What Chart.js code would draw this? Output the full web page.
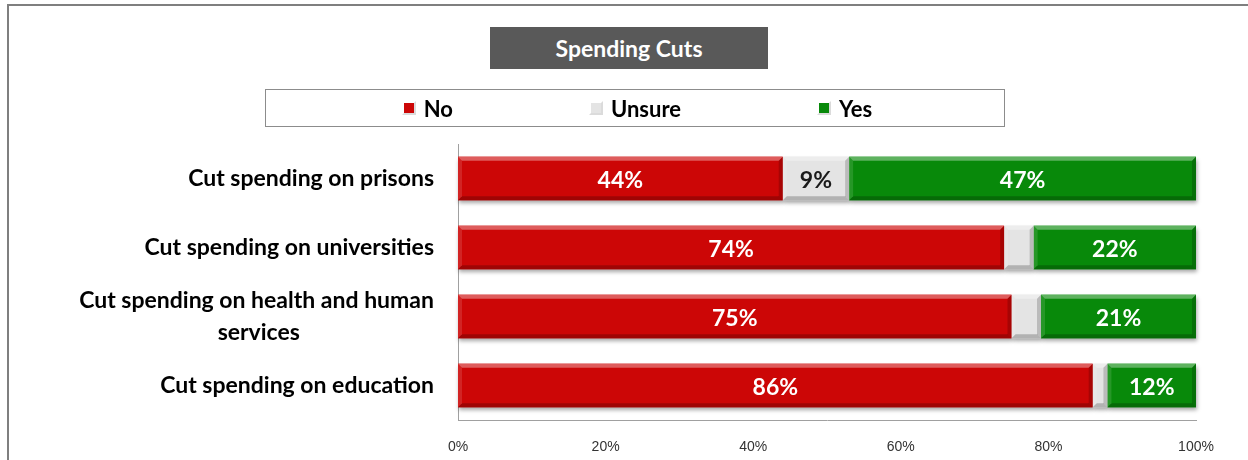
<!DOCTYPE html>
<html>
<head>
<meta charset="utf-8">
<title>Spending Cuts</title>
<script src="https://cdn.jsdelivr.net/npm/chart.js@4"></script>
<style>
  html, body { margin: 0; padding: 0; background: #fff; overflow: hidden; }
  #wrap { position: relative; width: 1248px; height: 460px; overflow: hidden; }
  #frame {
    position: absolute; left: 7px; top: 4px; width: 1300px; height: 520px;
    border-top: 2px solid #7f7f7f; border-left: 2px solid #7f7f7f;
  }
  #chart { position: absolute; left: 0; top: 0; }
  #title {
    position: absolute; left: 490px; top: 27px; width: 278px; height: 42px;
    background: #595959; color: #fff;
    font: bold 23px Lato, "Open Sans", sans-serif;
    display: flex; align-items: center; justify-content: center;
  }
  #legend {
    position: absolute; left: 265px; top: 89px; width: 740px; height: 38px;
    border: 1px solid #8c8c8c; box-sizing: border-box;
    display: flex; align-items: center; justify-content: center; gap: 136px;
    padding-left: 4px;
    font: bold 22px Lato, "Open Sans", sans-serif; color: #000;
  }
  #legend .item { display: flex; align-items: center; }
  #legend .swatch { width: 14px; height: 14px; margin-right: 8px; box-sizing: border-box; }
</style>
</head>
<body>
<div id="wrap">
  <div id="frame"></div>
  <canvas id="chart" width="1248" height="460"></canvas>
  <div id="title">Spending Cuts</div>
  <div id="legend"></div>
</div>
<script>
const categories = [
  ["Cut spending on prisons"],
  ["Cut spending on universities"],
  ["Cut spending on health and human", "services"],
  ["Cut spending on education"]
];
const noValues = [44, 74, 75, 86];
const unsureValues = [9, 4, 4, 2];
const yesValues = [47, 22, 21, 12];
const xTicks = [0, 20, 40, 60, 80, 100];

const labelFont = 'bold 23px Lato, "Open Sans", sans-serif';

// right-aligned tick labels: pad the shorter lines so they sit centred under the longest one
function centerLines(lines) {
  const ctx = document.createElement("canvas").getContext("2d");
  ctx.font = labelFont;
  const widest = Math.max(...lines.map(l => ctx.measureText(l).width));
  const space = ctx.measureText(" ").width;
  return lines.map(l => l + " ".repeat(Math.round((widest - ctx.measureText(l).width) / 2 / space)));
}

const series = [
  { label: "No", data: noValues, color: "#cc0606", text: "#ffffff" },
  { label: "Unsure", data: unsureValues, color: "#e4e4e4", text: "#1a1a1a" },
  { label: "Yes", data: yesValues, color: "#08890a", text: "#ffffff" }
];

function barRect(el) {
  const l = Math.min(el.x, el.base), r = Math.max(el.x, el.base);
  return { l, r, t: el.y - el.height / 2, b: el.y + el.height / 2 };
}

/* soft shadow under each segment, then bevel edges on top */
const bevel = {
  id: "bevel",
  beforeDatasetsDraw(chart) {
    const ctx = chart.ctx;
    chart.data.datasets.forEach((ds, i) => {
      chart.getDatasetMeta(i).data.forEach(el => {
        const { l, r, t, b } = barRect(el);
        if (r - l < 1) return;
        ctx.save();
        ctx.shadowColor = "rgba(0,0,0,0.35)";
        ctx.shadowBlur = 4;
        ctx.shadowOffsetX = 1;
        ctx.shadowOffsetY = 3;
        ctx.fillStyle = ds.backgroundColor;
        ctx.fillRect(l, t, r - l, b - t);
        ctx.restore();
      });
    });
  },
  afterDatasetsDraw(chart) {
    const ctx = chart.ctx;
    const d = 4;
    chart.data.datasets.forEach((ds, i) => {
      chart.getDatasetMeta(i).data.forEach(el => {
        const { l, r, t, b } = barRect(el);
        if (r - l < 2 * d) return;
        const poly = (pts, fill) => {
          ctx.beginPath();
          ctx.moveTo(pts[0][0], pts[0][1]);
          pts.slice(1).forEach(p => ctx.lineTo(p[0], p[1]));
          ctx.closePath();
          ctx.fillStyle = fill;
          ctx.fill();
        };
        ctx.save();
        poly([[l, t], [r, t], [r - d, t + d], [l + d, t + d]], "rgba(255,255,255,0.35)");
        poly([[l, b], [r, b], [r - d, b - d], [l + d, b - d]], "rgba(0,0,0,0.22)");
        poly([[l, t], [l + d, t + d], [l + d, b - d], [l, b]], "rgba(255,255,255,0.12)");
        poly([[r, t], [r - d, t + d], [r - d, b - d], [r, b]], "rgba(0,0,0,0.18)");
        ctx.restore();
      });
    });
  }
};

/* percentage labels in the middle of each segment wide enough to hold one */
const segmentLabels = {
  id: "segmentLabels",
  afterDatasetsDraw(chart) {
    const ctx = chart.ctx;
    ctx.save();
    ctx.font = labelFont;
    ctx.textAlign = "center";
    ctx.textBaseline = "middle";
    chart.data.datasets.forEach((ds, i) => {
      chart.getDatasetMeta(i).data.forEach((el, j) => {
        const v = ds.data[j];
        if (v < 5) return;
        const { l, r } = barRect(el);
        ctx.fillStyle = series[i].text;
        ctx.fillText(v + "%", (l + r) / 2, el.y + 2);
      });
    });
    ctx.restore();
  }
};

/* legend built from the datasets */
const htmlLegend = {
  id: "htmlLegend",
  afterUpdate(chart) {
    const box = document.getElementById("legend");
    box.innerHTML = "";
    chart.data.datasets.forEach(ds => {
      const item = document.createElement("span");
      item.className = "item";
      const sw = document.createElement("span");
      sw.className = "swatch";
      sw.style.background = ds.backgroundColor;
      sw.style.border = "2px solid rgba(0,0,0,0.14)";
      sw.style.borderTopColor = "rgba(255,255,255,0.5)";
      sw.style.borderLeftColor = "rgba(255,255,255,0.25)";
      sw.style.backgroundClip = "padding-box";
      item.appendChild(sw);
      item.appendChild(document.createTextNode(ds.label));
      box.appendChild(item);
    });
  }
};

new Chart(document.getElementById("chart"), {
  type: "bar",
  data: {
    labels: categories.map(centerLines),
    datasets: series.map(s => ({
      label: s.label,
      data: s.data,
      backgroundColor: s.color,
      borderWidth: 0,
      barPercentage: 0.63,
      categoryPercentage: 1
    }))
  },
  options: {
    indexAxis: "y",
    responsive: false,
    animation: false,
    layout: { padding: { top: 144, right: 52, left: 0, bottom: 0 } },
    plugins: {
      legend: { display: false },
      title: { display: false },
      tooltip: { enabled: false }
    },
    scales: {
      x: {
        stacked: true,
        min: 0,
        max: 100,
        afterBuildTicks: scale => { scale.ticks = xTicks.map(v => ({ value: v })); },
        grid: { display: false, drawTicks: false },
        border: { display: true, color: "#a0a0a0", width: 1 },
        ticks: {
          padding: 19,
          color: "#333",
          font: { family: "'Liberation Sans', Arial, sans-serif", size: 14 },
          callback: v => v + "%"
        },
        afterFit: scale => { scale.height = 38; }
      },
      y: {
        stacked: true,
        grid: { display: false, drawTicks: false },
        border: { display: true, color: "#a0a0a0", width: 1 },
        ticks: {
          padding: 24,
          color: "#000",
          font: { family: 'Lato, "Open Sans", sans-serif', size: 23, weight: "bold", lineHeight: "32px" }
        },
        afterFit: scale => { scale.width = 458; }
      }
    }
  },
  plugins: [bevel, segmentLabels, htmlLegend]
});
</script>
</body>
</html>
